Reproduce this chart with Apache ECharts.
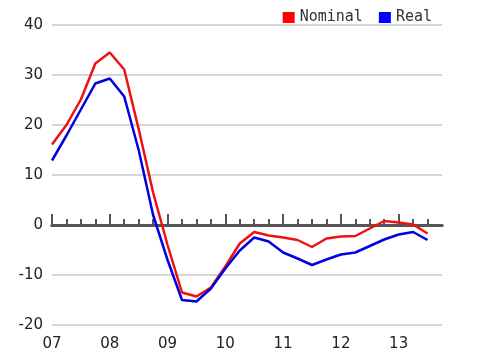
<!DOCTYPE html>
<html>
<head>
<meta charset="utf-8">
<script src="https://cdn.jsdelivr.net/npm/echarts@6/dist/echarts.min.js"></script>
<style>html,body{margin:0;padding:0;background:#fff}#c{width:477px;height:358px}</style>
</head>
<body>
<div id="c"></div>
<script>
var yearLabels = ["07", "08", "09", "10", "11", "12", "13"];
var quarters = [];
yearLabels.forEach(function (y) { for (var q = 1; q <= 4; q++) quarters.push(y + " Q" + q); });

var nominal = [16.1, 20.0, 25.1, 32.3, 34.5, 31.1, 19.2, 6.5, -4.0, -13.5, -14.3, -12.5, -8.3,
  -3.7, -1.4, -2.1, -2.5, -3.0, -4.4, -2.7, -2.3, -2.2, -0.7, 0.8, 0.5, 0.1, -1.7];
var real = [12.9, 17.9, 23.1, 28.3, 29.3, 25.7, 15.0, 2.0, -7.0, -15.0, -15.3, -12.7, -8.7,
  -5.1, -2.5, -3.3, -5.5, -6.7, -8.0, -6.9, -5.9, -5.5, -4.2, -2.9, -1.9, -1.4, -3.0];

var chart = echarts.init(document.getElementById('c'), null, {renderer: 'canvas'});
var n = quarters.length;
chart.setOption({
  animation: false,
  backgroundColor: '#fff',
  legend: {
    right: 40, top: 5,
    itemWidth: 12, itemHeight: 11, itemGap: 16,
    icon: 'rect',
    textStyle: {fontFamily: 'DejaVu Sans Mono', fontSize: 15, color: '#333'},
    data: ['Nominal', 'Real']
  },
  grid: {left: 52, right: 35, top: 25, bottom: 33, containLabel: false},
  xAxis: [
    {
      type: 'category', data: quarters, boundaryGap: false, position: 'bottom',
      axisLine: {show: true, onZero: true, onZeroAxisIndex: 0, lineStyle: {color: '#555', width: 3}},
      axisTick: {show: true, inside: true, length: 6, interval: function (i) { return i < n - 1; },
        lineStyle: {color: '#555', width: 2}},
      axisLabel: {show: false}, splitLine: {show: false}
    },
    {
      type: 'category', data: quarters, boundaryGap: false, position: 'bottom',
      axisLine: {show: true, onZero: true, onZeroAxisIndex: 0, lineStyle: {color: '#555', width: 3}},
      axisTick: {show: true, inside: true, length: 11, interval: function (i) { return i % 4 === 0; },
        lineStyle: {color: '#555', width: 2}},
      axisLabel: {show: false}, splitLine: {show: false}
    },
    {
      type: 'category', data: quarters, boundaryGap: false, position: 'bottom',
      axisLine: {show: false, onZero: false},
      axisTick: {show: false},
      axisLabel: {show: true, margin: 12, interval: function (i) { return i % 4 === 0; },
        formatter: function (v) { return v.slice(0, 2); },
        fontFamily: 'DejaVu Sans', fontSize: 15, color: '#222'},
      splitLine: {show: false}
    }
  ],
  yAxis: {
    type: 'value', min: -20, max: 40, interval: 10,
    axisLine: {show: false}, axisTick: {show: false},
    axisLabel: {margin: 9, fontFamily: 'DejaVu Sans', fontSize: 15, color: '#222'},
    splitLine: {show: true, lineStyle: {color: '#c8c8c8', width: 1.5}}
  },
  series: [
    {name: 'Nominal', type: 'line', xAxisIndex: 0, data: nominal, symbol: 'none',
      itemStyle: {color: '#ff0000'}, lineStyle: {color: '#ee1111', width: 2.5}, z: 3},
    {name: 'Real', type: 'line', xAxisIndex: 0, data: real, symbol: 'none',
      itemStyle: {color: '#0000ff'}, lineStyle: {color: '#0000e0', width: 2.5}, z: 4}
  ]
});
</script>
</body>
</html>
